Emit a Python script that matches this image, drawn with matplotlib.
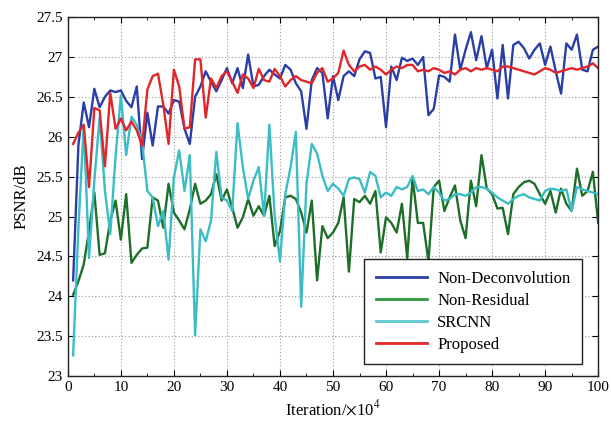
import matplotlib
matplotlib.use("Agg")
import matplotlib.pyplot as plt
from matplotlib.ticker import MultipleLocator, FuncFormatter

plt.rcParams['font.family'] = ['Liberation Serif', 'DejaVu Serif']
plt.rcParams['mathtext.fontset'] = 'stix'

iterations = list(range(1, 101))

non_deconvolution = [
    24.20, 25.90, 26.43, 26.12, 26.60, 26.37, 26.50, 26.58, 26.56, 26.58,
    26.45, 26.37, 26.63, 25.72, 26.30, 25.89, 26.38, 26.38, 26.29, 26.46,
    26.44, 26.10, 25.91, 26.50, 26.63, 26.82, 26.69, 26.57, 26.71, 26.86,
    26.67, 26.86, 26.61, 27.03, 26.63, 26.65, 26.76, 26.84, 26.78, 26.73,
    26.90, 26.84, 26.67, 26.57, 26.10, 26.71, 26.86, 26.80, 26.23, 26.76,
    26.46, 26.76, 26.82, 26.76, 26.97, 27.07, 27.05, 26.73, 26.75, 26.12,
    26.88, 26.71, 26.99, 26.95, 26.98, 26.90, 27.00, 26.27, 26.35, 26.77,
    26.75, 26.69, 27.28, 26.84, 27.09, 27.31, 26.96, 27.26, 26.86, 27.09,
    26.48, 27.15, 26.48, 27.15, 27.19, 27.11, 26.98, 27.09, 27.17, 26.90,
    27.13, 26.82, 26.54, 27.17, 27.09, 27.28, 26.84, 26.82, 27.09, 27.13,
]

non_residual = [
    24.02, 24.19, 24.40, 24.82, 25.30, 24.52, 24.54, 24.95, 25.20, 24.71,
    25.28, 24.42, 24.52, 24.60, 24.61, 25.24, 25.20, 24.86, 25.41, 25.05,
    24.95, 24.84, 25.09, 25.41, 25.16, 25.20, 25.28, 25.53, 25.20, 25.34,
    25.11, 24.86, 24.99, 25.22, 25.01, 25.13, 25.01, 25.26, 24.63, 24.82,
    25.24, 25.26, 25.22, 25.05, 24.80, 25.20, 24.20, 24.88, 24.73, 24.80,
    24.92, 25.24, 24.31, 25.22, 25.18, 25.26, 25.16, 25.32, 24.55, 24.99,
    24.92, 24.80, 25.16, 24.48, 25.49, 24.92, 24.92, 24.44, 25.37, 25.45,
    25.07, 25.24, 25.39, 24.95, 24.73, 25.45, 25.13, 25.77, 25.35, 25.28,
    25.10, 25.11, 24.78, 25.28, 25.37, 25.43, 25.45, 25.41, 25.28, 25.16,
    25.32, 25.05, 25.35, 25.16, 25.07, 25.60, 25.26, 25.32, 25.56, 24.92,
]

srcnn = [
    23.26, 24.86, 26.15, 24.48, 25.45, 26.25, 25.32, 24.78, 25.75, 26.52,
    25.77, 26.25, 26.15, 25.93, 25.32, 25.24, 24.88, 25.07, 24.46, 25.49,
    25.83, 25.32, 25.77, 23.51, 24.84, 24.69, 24.95, 25.81, 25.24, 25.20,
    25.07, 26.17, 25.62, 25.22, 25.45, 25.62, 25.01, 26.15, 25.01, 24.44,
    25.28, 25.62, 26.06, 23.87, 25.41, 25.91, 25.79, 25.51, 25.32, 25.41,
    25.35, 25.26, 25.47, 25.49, 25.47, 25.30, 25.56, 25.51, 25.24, 25.30,
    25.26, 25.37, 25.34, 25.37, 25.51, 25.32, 25.34, 25.28, 25.37, 25.30,
    25.20, 25.22, 25.28, 25.28, 25.26, 25.30, 25.37, 25.37, 25.35, 25.30,
    25.24, 25.20, 25.16, 25.22, 25.26, 25.28, 25.24, 25.22, 25.20, 25.32,
    25.35, 25.34, 25.32, 25.34, 25.07, 25.37, 25.34, 25.32, 25.30, 25.28,
]

proposed = [
    25.91, 26.05, 26.15, 25.37, 26.36, 26.33, 25.63, 26.55, 26.10, 26.23,
    26.08, 26.19, 26.08, 25.89, 26.59, 26.76, 26.79, 26.40, 25.91, 26.84,
    26.63, 26.10, 26.12, 26.97, 26.97, 26.24, 26.73, 26.61, 26.76, 26.82,
    26.69, 26.55, 26.78, 26.73, 26.61, 26.85, 26.71, 26.69, 26.85, 26.76,
    26.63, 26.71, 26.76, 26.71, 26.69, 26.67, 26.80, 26.86, 26.69, 26.73,
    26.80, 27.08, 26.90, 26.82, 26.88, 26.90, 26.84, 26.88, 26.84, 26.78,
    26.84, 26.88, 26.86, 26.90, 26.90, 26.82, 26.84, 26.82, 26.86, 26.84,
    26.80, 26.82, 26.78, 26.84, 26.86, 26.82, 26.86, 26.84, 26.86, 26.84,
    26.82, 26.88, 26.88, 26.86, 26.84, 26.82, 26.80, 26.78, 26.82, 26.86,
    26.84, 26.80, 26.82, 26.84, 26.86, 26.84, 26.86, 26.88, 26.92, 26.86,
]

series_names = ["Non-Deconvolution", "Non-Residual", "SRCNN", "Proposed"]
series_colors = ["#2a3fa6", "#1d6e28", "#3cbcc4", "#e0262a"]
legend_colors = ["#2a3fa6", "#2e9a40", "#5cc8d0", "#e0262a"]

fig = plt.figure(figsize=(6.11, 4.26), dpi=100)
ax = fig.add_axes([0.111, 0.117, 0.868, 0.843])

all_series = [non_deconvolution, non_residual, srcnn, proposed]
for data, name, col in zip(all_series, series_names, series_colors):
    ax.plot(iterations, data, color=col, lw=1.7, label=name)

ax.set_xlim(0, 100)
ax.set_ylim(23, 27.5)
ax.xaxis.set_major_locator(MultipleLocator(10))
ax.xaxis.set_minor_locator(MultipleLocator(5))
ax.yaxis.set_major_locator(MultipleLocator(0.5))
ax.yaxis.set_major_formatter(FuncFormatter(lambda v, p: f"{v:g}"))
ax.tick_params(which='both', direction='in', top=True, right=True, labelsize=11)
ax.tick_params(which='major', length=4)
ax.tick_params(which='minor', length=2.5)
ax.grid(True, which='major', linestyle=(0, (1, 2)), color='#999999', linewidth=0.8)
for s in ax.spines.values():
    s.set_linewidth(1.0)
    s.set_color('#222222')

ax.set_xlabel(r'Iteration/$\times$10$^{4}$', fontsize=12, labelpad=4)
ax.set_ylabel('PSNR/dB', fontsize=12, labelpad=5)

leg = ax.legend(loc='lower right', bbox_to_anchor=(0.97, 0.033), borderaxespad=0,
                fontsize=12, frameon=True, fancybox=False, framealpha=1,
                edgecolor='#222222', handlelength=3.1, labelspacing=0.35,
                borderpad=0.7, handletextpad=0.6)
for h, c in zip(leg.get_lines(), legend_colors):
    h.set_color(c)
    h.set_linewidth(2)
leg.get_frame().set_linewidth(1.0)

fig.savefig("out.png", dpi=100)
